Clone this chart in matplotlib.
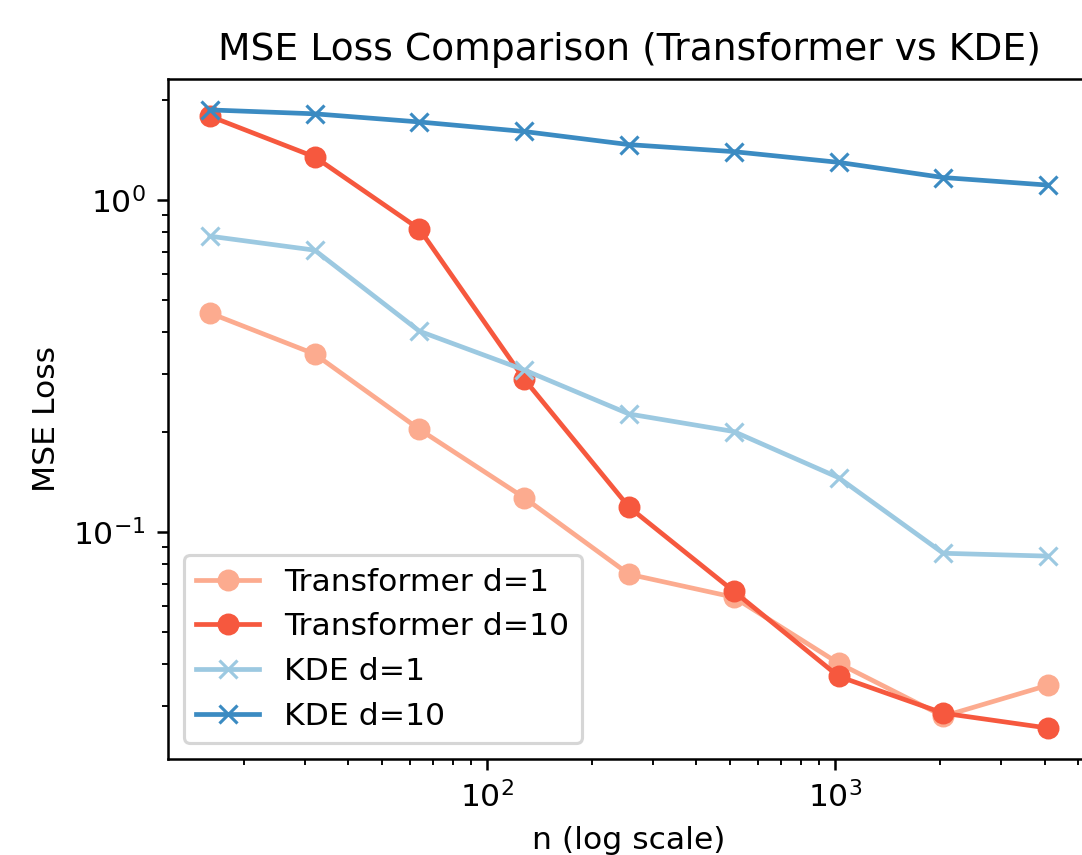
import matplotlib.pyplot as plt

n_values = [16, 32, 64, 128, 256, 512, 1024, 2048, 4096]

transformer_d1 = [0.457, 0.344, 0.204, 0.127, 0.0747, 0.0637, 0.0403, 0.0279, 0.0346]
transformer_d10 = [1.79, 1.35, 0.818, 0.289, 0.119, 0.0664, 0.0368, 0.0285, 0.0257]
kde_d1 = [0.779, 0.707, 0.403, 0.308, 0.227, 0.201, 0.146, 0.0864, 0.0847]
kde_d10 = [1.87, 1.82, 1.72, 1.61, 1.47, 1.40, 1.30, 1.17, 1.11]

dpi = 226
fig = plt.figure(figsize=(1082 / dpi, 855 / dpi), dpi=dpi)
# the reference is cropped on the right, so the axes run past the edge
ax = fig.add_axes([168 / 1082, 1 - 759 / 855, (1090 - 168) / 1082, (759 - 79) / 855])

ax.plot(n_values, transformer_d1, marker='o', color=plt.cm.Reds(0.3), label='Transformer d=1')
ax.plot(n_values, transformer_d10, marker='o', color=plt.cm.Reds(0.55), label='Transformer d=10')
ax.plot(n_values, kde_d1, marker='x', color=plt.cm.Blues(0.38), label='KDE d=1')
ax.plot(n_values, kde_d10, marker='x', color=plt.cm.Blues(0.65), label='KDE d=10')

ax.set_xscale('log')
ax.set_yscale('log')
# keep the x label fully inside the picture
ax.set_xlabel('n (log scale)', labelpad=4)
ax.set_ylabel('MSE Loss')
ax.set_title('MSE Loss Comparison (Transformer vs KDE)')
ax.legend(loc='lower left')

fig.savefig('out.png', dpi=dpi)
